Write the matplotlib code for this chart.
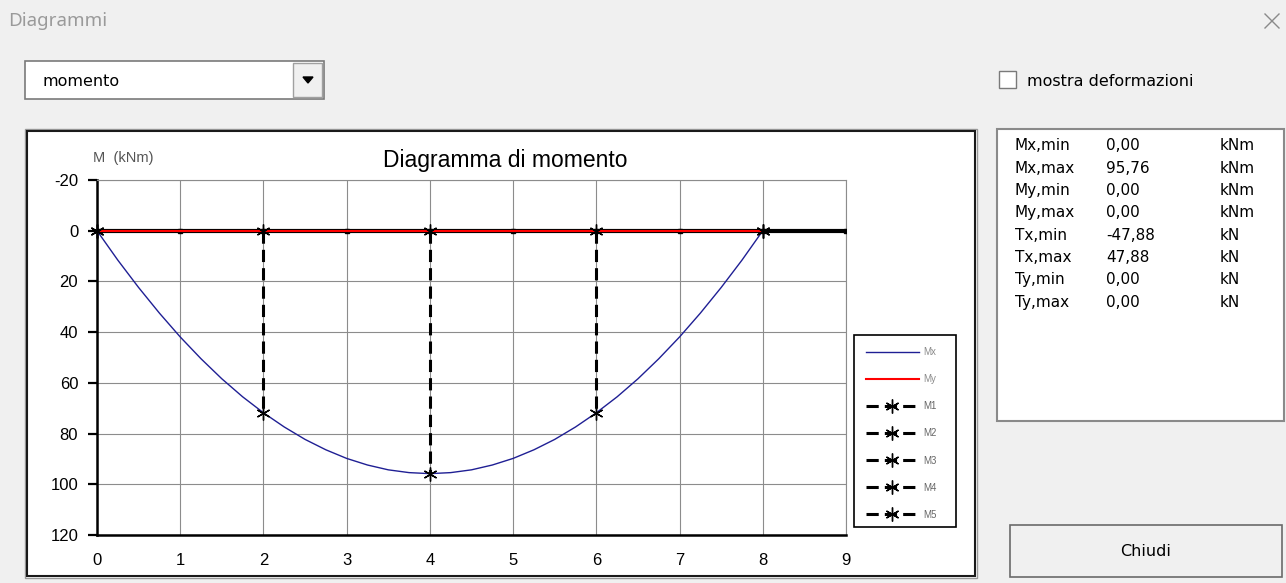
import numpy as np
import matplotlib
matplotlib.use("Agg")
import matplotlib.pyplot as plt
from matplotlib.patches import Rectangle, Polygon

plt.rcParams['axes.unicode_minus'] = False

W, H = 1286, 583

# bending moment along the beam (kNm)
x_pos = [0, 0.25, 0.5, 0.75, 1, 1.25, 1.5, 1.75, 2, 2.25, 2.5, 2.75, 3, 3.25, 3.5, 3.75,
         4, 4.25, 4.5, 4.75, 5, 5.25, 5.5, 5.75, 6, 6.25, 6.5, 6.75, 7, 7.25, 7.5, 7.75, 8]
mx_vals = [0, 11.6, 22.4, 32.5, 41.9, 50.5, 58.4, 65.5, 71.8, 77.4, 82.3, 86.4, 89.8, 92.4, 94.3, 95.4,
           95.8, 95.4, 94.3, 92.4, 89.8, 86.4, 82.3, 77.4, 71.8, 65.5, 58.4, 50.5, 41.9, 32.5, 22.4, 11.6, 0]
my_x = [0, 8]
my_vals = [0, 0]
beam_x = [0, 1, 2, 3, 4, 5, 6, 7, 8, 9]
beam_y = [0, 0, 0, 0, 0, 0, 0, 0, 0, 0]
section_x = [0, 2, 4, 6, 8]
section_m = [0, 71.8, 95.8, 71.8, 0]
section_names = ['M1', 'M2', 'M3', 'M4', 'M5']
y_ticks = [-20, 0, 20, 40, 60, 80, 100, 120]
x_ticks = [0, 1, 2, 3, 4, 5, 6, 7, 8, 9]

stat_names = ['Mx,min', 'Mx,max', 'My,min', 'My,max', 'Tx,min', 'Tx,max', 'Ty,min', 'Ty,max']
stat_values = ['0,00', '95,76', '0,00', '0,00', '-47,88', '47,88', '0,00', '0,00']
stat_units = ['kNm', 'kNm', 'kNm', 'kNm', 'kN', 'kN', 'kN', 'kN']


def px_box(x0, y0, x1, y1):
    return [x0 / W, 1 - y1 / H, (x1 - x0) / W, (y1 - y0) / H]


fig = plt.figure(figsize=(W / 100, H / 100), dpi=100, facecolor='#f0f0f0')

# dialog background, drawn in pixel coordinates
bg = fig.add_axes([0, 0, 1, 1])
bg.set_xlim(0, W)
bg.set_ylim(H, 0)
bg.axis('off')

ui_font = 'DejaVu Sans'
bg.text(8, 21, 'Diagrammi', fontsize=13.5, color='#9a9a9a', family='Noto Sans', va='center')
bg.plot([1265, 1279], [14, 28], color='#8a8a8a', lw=1)
bg.plot([1265, 1279], [28, 14], color='#8a8a8a', lw=1)

# combo box
bg.add_patch(Rectangle((25, 61), 299, 38, facecolor='white', edgecolor='#7a7a7a', lw=1.2))
bg.add_patch(Rectangle((293, 63), 29, 34, facecolor='#f0f0f0', edgecolor='#a0a0a0', lw=1))
bg.add_patch(Polygon([[303, 77], [313, 77], [308, 83]], closed=True, color='black'))
bg.text(43, 81, 'momento', fontsize=11.5, family=ui_font, va='center')

# checkbox
bg.add_patch(Rectangle((999, 71), 17, 17, facecolor='white', edgecolor='#7a7a7a', lw=1))
bg.text(1027, 82, 'mostra deformazioni', fontsize=11.5, family=ui_font, va='center')

# results list
bg.add_patch(Rectangle((997, 129), 287, 292, facecolor='white', edgecolor='#8a8a8a', lw=1.5))
for i, (n, v, u) in enumerate(zip(stat_names, stat_values, stat_units)):
    yy = 146 + i * 22.3
    bg.text(1015, yy, n, fontsize=11, family=ui_font, va='center')
    bg.text(1106, yy, v, fontsize=11, family=ui_font, va='center')
    bg.text(1220, yy, u, fontsize=11, family=ui_font, va='center')

# close button
bg.add_patch(Rectangle((1010, 525), 272, 52, facecolor='#f0f0f0', edgecolor='#6a6a6a', lw=1.2))
bg.text(1146, 552, 'Chiudi', fontsize=11.5, family=ui_font, ha='center', va='center')

# chart panel
bg.add_patch(Rectangle((25, 129), 952, 449, facecolor='white', edgecolor='#9a9a9a', lw=1))
bg.add_patch(Rectangle((27, 131), 948, 445, facecolor='none', edgecolor='#1a1a1a', lw=1.5))
bg.text(505, 161, 'Diagramma di momento', fontsize=16.5, family='Liberation Sans', ha='center', va='center')
bg.text(93, 158, 'M  (kNm)', fontsize=10.5, family='Liberation Sans', color='#555555', va='center')
# legend box
bg.add_patch(Rectangle((854, 335), 102, 192, facecolor='white', edgecolor='black', lw=1.2))

# chart
ax = fig.add_axes(px_box(97, 180, 846, 535))
ax.set_facecolor('none')
ax.set_xlim(0, 9)
ax.set_ylim(120, -20)
ax.set_xticks(x_ticks)
ax.set_yticks(y_ticks)
ax.set_xticklabels([str(t) for t in x_ticks], family='Liberation Sans', fontsize=12)
ax.set_yticklabels([str(t) for t in y_ticks], family='Liberation Sans', fontsize=12)
ax.tick_params(axis='x', length=0, pad=13)
ax.tick_params(axis='y', length=6.5, width=1.6, pad=7)
ax.grid(color='#8c8c8c', lw=0.8)
ax.set_axisbelow(True)
for s in ('top', 'right'):
    ax.spines[s].set_color('#8c8c8c')
    ax.spines[s].set_linewidth(0.8)
for s in ('left', 'bottom'):
    ax.spines[s].set_color('black')
    ax.spines[s].set_linewidth(1.8)

ax.plot(beam_x, beam_y, color='black', lw=3, marker='s', ms=3, zorder=3)
ax.plot(x_pos, mx_vals, color='#1f1f94', lw=1, label='Mx', zorder=4)
ax.plot(my_x, my_vals, color='#ff0000', lw=1.5, label='My', zorder=4)
star = (6, 2, 0)
for sx, sm, name in zip(section_x, section_m, section_names):
    ax.plot([sx, sx], [0, sm], color='black', lw=2.2, dashes=(4, 2), marker=star, ms=10,
            markeredgewidth=1, label=name, zorder=5, clip_on=False)

leg = ax.legend(loc='upper left', bbox_to_anchor=(854 / W, 1 - 335 / H), bbox_transform=fig.transFigure,
                borderaxespad=0, handlelength=5.4, handletextpad=0.5, labelspacing=1.76,
                borderpad=1.25, numpoints=1, frameon=False,
                prop={'family': 'Liberation Sans', 'size': 7})
for t in leg.get_texts():
    t.set_color('#8a8a8a' if t.get_text() in ('Mx', 'My') else '#666666')

fig.savefig('out.png', dpi=100, facecolor=fig.get_facecolor())
